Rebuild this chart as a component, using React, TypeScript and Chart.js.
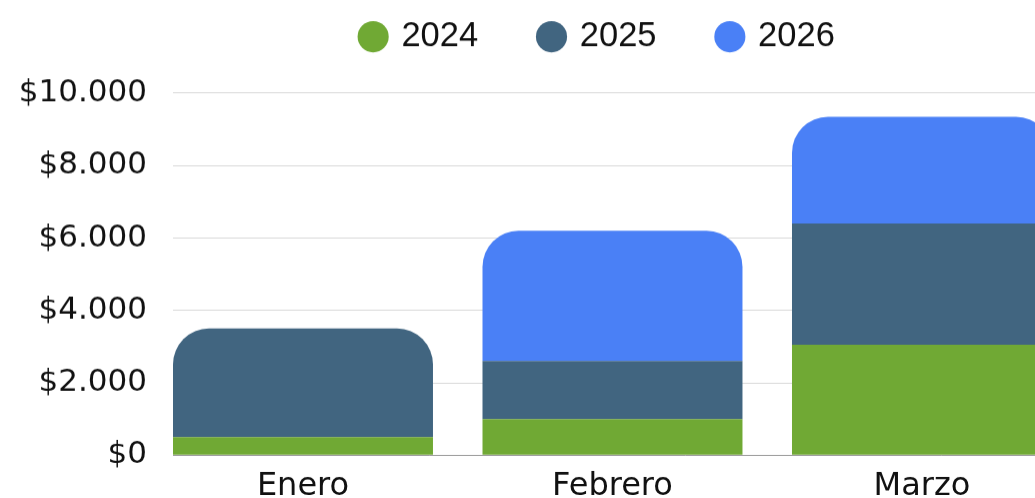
import React, { useEffect, useRef } from "react";
import { Chart, registerables } from "chart.js";

Chart.register(...registerables);

const categories = ["Enero", "Febrero", "Marzo"];
const seriesLabels = ["2024", "2025", "2026"];
const values2024 = [500, 1000, 3050];
const values2025 = [3000, 1600, 3350];
const values2026 = [0, 3600, 2950];
const seriesColors = ["#70A934", "#416580", "#4A80F6"];
const yTickValues = [0, 2000, 4000, 6000, 8000, 10000];
// the plot area reaches a little above the last tick ($10.000)
const yAxisTop = 10804;

const allSeries = [values2024, values2025, values2026];

function formatMoney(v: number): string {
  return "$" + String(v).replace(/\B(?=(\d{3})+(?!\d))/g, ".");
}

function topIndexFor(i: number): number {
  let top = -1;
  allSeries.forEach((s, d) => {
    if (s[i] > 0) top = d;
  });
  return top;
}

const LEGEND_FONT = "'Liberation Sans', Arial, sans-serif";
const AXIS_FONT = "'DejaVu Sans', Verdana, sans-serif";

export default function App() {
  const ref = useRef<HTMLCanvasElement | null>(null);

  useEffect(() => {
    if (!ref.current) return;
    const chart = new Chart(ref.current, {
      type: "bar",
      data: {
        datasets: allSeries.map((s, d) => ({
          label: seriesLabels[d],
          data: s.map((v, i) => ({ x: i, y: v })),
          backgroundColor: seriesColors[d],
          borderWidth: 0,
          borderSkipped: false,
          borderRadius: (ctx: any) => {
            const i = ctx.dataIndex;
            if (i === undefined) return 0;
            const v = allSeries[d][i];
            if (!(v > 0) || topIndexFor(i) !== d) return 0;
            return { topLeft: 36, topRight: 36, bottomLeft: 0, bottomRight: 0 };
          },
          categoryPercentage: 1,
          barPercentage: 0.84,
        })),
      },
      options: {
        animation: false,
        responsive: true,
        maintainAspectRatio: false,
        layout: { padding: 0 },
        plugins: {
          tooltip: { enabled: false },
          legend: {
            position: "top",
            align: "center",
            labels: {
              usePointStyle: true,
              pointStyle: "circle",
              boxWidth: 22,
              boxHeight: 22,
              padding: 62.35,
              color: "#111",
              font: { family: LEGEND_FONT, size: 34.5 },
            },
          },
        },
        scales: {
          x: {
            type: "linear",
            stacked: true,
            offset: false,
            min: -0.42,
            max: 2.8886,
            grid: { display: false, drawTicks: false },
            border: { display: true, color: "#9a9a9a", width: 1 },
            ticks: {
              stepSize: 1,
              includeBounds: false,
              autoSkip: false,
              maxRotation: 0,
              padding: 12.1,
              color: "#111",
              font: { family: AXIS_FONT, size: 32 },
              callback: (v: any) => categories[v] ?? "",
            },
          },
          y: {
            stacked: true,
            min: yTickValues[0],
            max: yAxisTop,
            afterBuildTicks: (scale: any) => {
              scale.ticks = yTickValues.map((v) => ({ value: v }));
            },
            afterFit: (scale: any) => {
              scale.width = 173;
            },
            grid: { color: "#d9d9d9", lineWidth: 1, drawTicks: false },
            border: { display: false },
            ticks: {
              padding: 26,
              color: "#111",
              font: { family: AXIS_FONT, size: 31 },
              callback: (v: any) => formatMoney(Number(v)),
            },
          },
        },
      },
    } as any);
    return () => chart.destroy();
  }, []);

  return (
    <div
      style={{
        position: "fixed",
        left: 0,
        top: 0,
        width: 1035,
        height: 498,
        overflow: "hidden",
        background: "#fff",
      }}
    >
      <div
        style={{
          position: "absolute",
          left: 0,
          top: -42.6,
          width: 1197,
          height: 559.9,
        }}
      >
        <canvas ref={ref} />
      </div>
    </div>
  );
}
